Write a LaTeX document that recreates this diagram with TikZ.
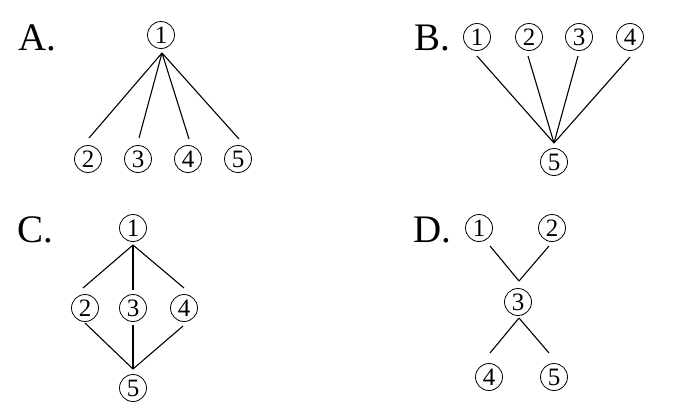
\documentclass[tikz,border=0pt]{standalone}
\usepackage{fontspec}
\setmainfont{Liberation Serif}
\begin{document}
\begin{tikzpicture}[x=1pt,y=-1pt,
  cnode/.style={circle,draw,line width=0.8pt,minimum size=27pt,inner sep=0pt,font=\fontsize{25}{25}\selectfont},
  lbl/.style={inner sep=0pt,font=\fontsize{39}{39}\selectfont},
  edge/.style={line width=1.1pt}]
\useasboundingbox (0,0) rectangle (674,418);
% A
\node[lbl] (la) at (37,38) {A.};
\node[cnode] (a1) at (161,35) {1};
\node[cnode] (a2) at (88,159) {2};
\node[cnode] (a3) at (138,159) {3};
\node[cnode] (a4) at (188,159) {4};
\node[cnode] (a5) at (238,159) {5};
\coordinate (ap) at (162,53);
\draw[edge] (ap) -- (89,138) coordinate (ae2);
\draw[edge] (ap) -- (139,138) coordinate (ae3);
\draw[edge] (ap) -- (189,139) coordinate (ae4);
\draw[edge] (ap) -- (239,139) coordinate (ae5);
% B
\node[lbl] (lb) at (432,38) {B.};
\node[cnode] (b1) at (477,37) {1};
\node[cnode] (b2) at (529,37) {2};
\node[cnode] (b3) at (579,37) {3};
\node[cnode] (b4) at (630,37) {4};
\node[cnode] (b5) at (554,162) {5};
\coordinate (bp) at (554,143);
\draw[edge] (477,56) coordinate (be1) -- (bp);
\draw[edge] (528,56) coordinate (be2) -- (bp);
\draw[edge] (578,56) coordinate (be3) -- (bp);
\draw[edge] (630,57) coordinate (be4) -- (bp);
% C
\node[lbl] (lc) at (35,230) {C.};
\node[cnode] (c1) at (133,228) {1};
\node[cnode] (c2) at (85,308) {2};
\node[cnode] (c3) at (133,308) {3};
\node[cnode] (c4) at (184,308) {4};
\node[cnode] (c5) at (133,388) {5};
\coordinate (ct) at (133,245);
\coordinate (cb) at (133,369);
\draw[edge] (ct) -- (83,288) coordinate (ce2);
\draw[edge] (ct) -- (133,290) coordinate (ce3);
\draw[edge] (ct) -- (184,288) coordinate (ce4);
\draw[edge] (85,323) coordinate (cf2) -- (cb);
\draw[edge] (133,325) coordinate (cf3) -- (cb);
\draw[edge] (183,326) coordinate (cf4) -- (cb);
% D
\node[lbl] (ld) at (432,230) {D.};
\node[cnode] (d1) at (479,228) {1};
\node[cnode] (d2) at (552,228) {2};
\node[cnode] (d3) at (518,302) {3};
\node[cnode] (d4) at (489,377) {4};
\node[cnode] (d5) at (554,377) {5};
\coordinate (dt) at (519,281);
\coordinate (db) at (519,318);
\draw[edge] (490,246) coordinate (de1) -- (dt);
\draw[edge] (549,246) coordinate (de2) -- (dt);
\draw[edge] (db) -- (490,353) coordinate (df4);
\draw[edge] (db) -- (549,353) coordinate (df5);
\end{tikzpicture}
\end{document}
